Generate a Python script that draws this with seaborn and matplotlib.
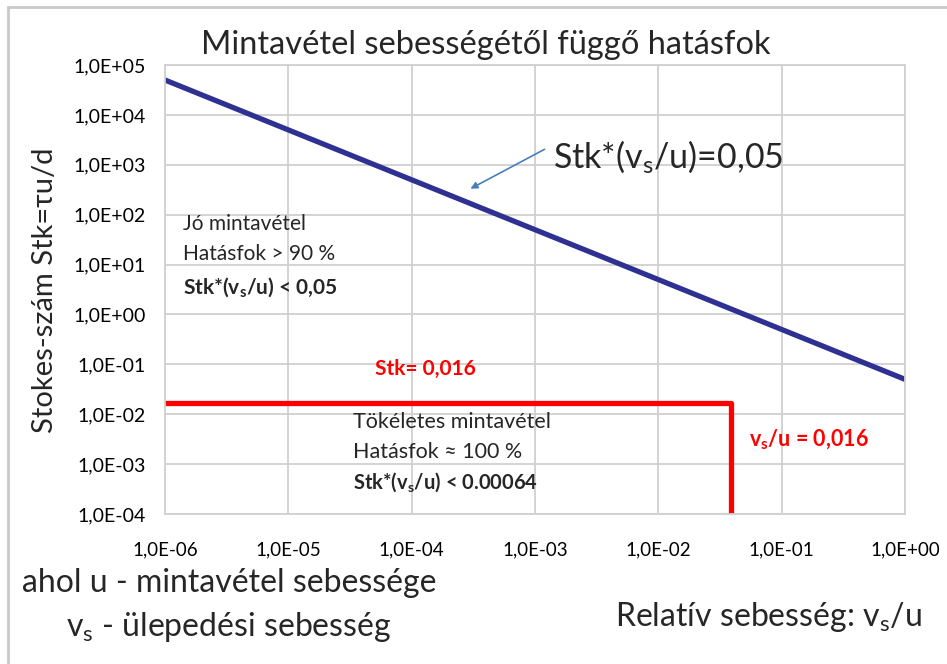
import numpy as np
import pandas as pd
import matplotlib
matplotlib.use('Agg')
import matplotlib.pyplot as plt
import matplotlib.patches as patches
from matplotlib.ticker import FuncFormatter
import seaborn as sns

# adatok
x_ratio = [1e-6, 1.0]             # v_s/u
stk_curve = [5e4, 0.05]           # Stk*(v_s/u)=0,05
red_x = [1e-6, 0.039, 0.039]      # tökéletes mintavétel határa
red_y = [0.017, 0.017, 1e-4]
x_ticks = [1e-6, 1e-5, 1e-4, 1e-3, 1e-2, 1e-1, 1e0]
y_ticks = [1e-4, 1e-3, 1e-2, 1e-1, 1e0, 1e1, 1e2, 1e3, 1e4, 1e5]

sns.set_theme(style='whitegrid')
plt.rcParams['font.family'] = ['Lato', 'DejaVu Sans']
plt.rcParams['mathtext.fontset'] = 'custom'
plt.rcParams['mathtext.rm'] = 'Lato'
plt.rcParams['mathtext.bf'] = 'Lato:bold'
plt.rcParams['mathtext.it'] = 'Lato'
plt.rcParams['mathtext.default'] = 'regular'

W, H = 947, 664
fig = plt.figure(figsize=(W / 100, H / 100), dpi=100)
ax = fig.add_axes([165 / W, 1 - 514 / H, (905 - 165) / W, (514 - 65) / H])


def px(x, y):
    return x / W, 1 - y / H


# külső keret
fig.patches.append(patches.Rectangle(px(8, 700), 2, (700 - 7) / H,
                                     transform=fig.transFigure, fill=False,
                                     edgecolor='#c9c9c9', linewidth=2))

df_blue = pd.DataFrame({'x': x_ratio, 'y': stk_curve})
df_red = pd.DataFrame({'x': red_x, 'y': red_y})
sns.lineplot(data=df_blue, x='x', y='y', ax=ax, color='#2e3192', linewidth=3.8,
             sort=False, estimator=None)
sns.lineplot(data=df_red, x='x', y='y', ax=ax, color='#ff0000', linewidth=3.8,
             sort=False, estimator=None)

ax.set_xscale('log')
ax.set_yscale('log')
ax.set_xlim(1e-6, 1)
ax.set_ylim(1e-4, 1e5)
ax.set_xticks(x_ticks)
ax.set_yticks(y_ticks)
ax.minorticks_off()
fmt = FuncFormatter(lambda v, p: f"{v:.1E}".replace('.', ','))
ax.xaxis.set_major_formatter(fmt)
ax.yaxis.set_major_formatter(fmt)
ax.tick_params(axis='x', labelsize=13.5, pad=20, length=0, colors='#000000')
ax.tick_params(axis='y', labelsize=14, pad=14, length=0, colors='#000000')
ax.set_xlabel('')
ax.set_ylabel('')
ax.grid(True, color='#d0d0d0', linewidth=1.3)
for s in ax.spines.values():
    s.set_color('#d0d0d0')
    s.set_linewidth(1.3)

# címek
fig.text(*px(486, 45), 'Mintavétel sebességétől függő hatásfok', fontsize=23.5,
         ha='center', va='center')
fig.text(*px(45, 290), 'Stokes-szám Stk=τu/d', fontsize=21, rotation=90,
         ha='center', va='center')
fig.text(*px(229, 583), 'ahol u - mintavétel sebessége', fontsize=23,
         ha='center', va='center')
fig.text(*px(229, 627), 'v$_s$ - ülepedési sebesség', fontsize=23,
         ha='center', va='center')
fig.text(*px(768, 617), 'Relatív sebesség: v$_s$/u', fontsize=23,
         ha='center', va='center')

# szövegek a diagramon
fig.text(*px(183, 224), 'Jó mintavétel', fontsize=15, va='center')
fig.text(*px(183, 254), 'Hatásfok > 90 %', fontsize=15, va='center')
fig.text(*px(183, 287), r'Stk*($\mathbf{v_s}$/u) < 0,05', fontsize=15,
         fontweight='bold', va='center')
fig.text(*px(553, 157), 'Stk*(v$_s$/u)=0,05', fontsize=24.5, va='center')
fig.text(*px(375, 369), 'Stk= 0,016', fontsize=15, fontweight='bold',
         color='#ff0000', va='center')
fig.text(*px(353, 422), 'Tökéletes mintavétel', fontsize=15.5, va='center')
fig.text(*px(353, 452), 'Hatásfok ≈ 100 %', fontsize=15.5, va='center')
fig.text(*px(353, 482), r'Stk*($\mathbf{v_s}$/u) < 0.00064', fontsize=14.5,
         fontweight='bold', va='center')
fig.text(*px(749, 440), r'$\mathbf{v_s}$/u = 0,016', fontsize=15.5,
         fontweight='bold', color='#ff0000', va='center')

# nyíl
ax.annotate('', xy=px(468, 190), xytext=px(547, 148),
            xycoords='figure fraction', textcoords='figure fraction',
            arrowprops=dict(arrowstyle='-|>', color='#4a7ebb', lw=1.2,
                            mutation_scale=10))

fig.savefig('out.png', dpi=100)
